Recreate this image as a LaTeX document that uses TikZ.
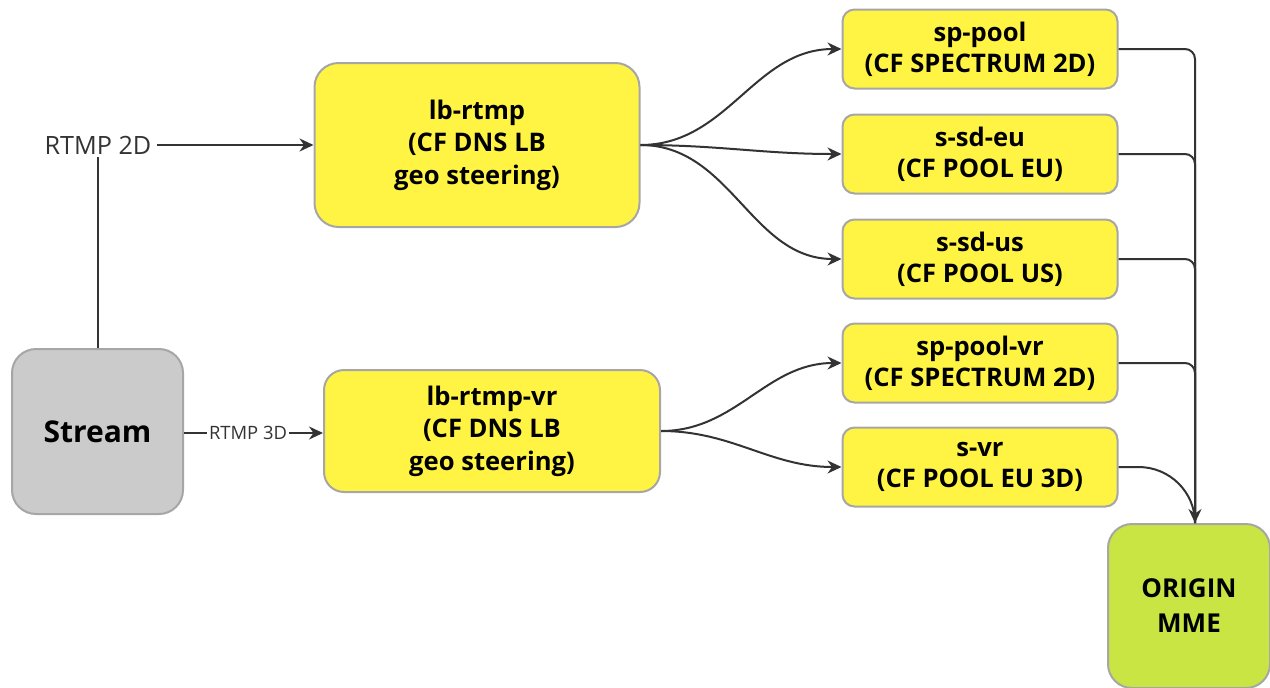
\documentclass[tikz,border=0pt]{standalone}
\usepackage{fontspec}
\setmainfont{Open Sans}
\usetikzlibrary{arrows.meta}
\definecolor{boxyellow}{HTML}{FFF443}
\definecolor{boxgray}{HTML}{CBCBCB}
\definecolor{boxgreen}{HTML}{C9E543}
\definecolor{edgegray}{HTML}{A6A6A6}
\definecolor{linedark}{HTML}{333333}
\tikzset{
  box/.style={draw=edgegray, line width=1pt, inner sep=0pt, align=center,
    font=\fontsize{12.8}{16.2}\selectfont\bfseries},
  ybox/.style={box, fill=boxyellow, rounded corners=6pt, minimum width=137.5pt, minimum height=39.5pt,
    font=\fontsize{12.8}{15.5}\selectfont\bfseries},
  conn/.style={draw=linedark, line width=1pt},
  arr/.style={conn, -{Stealth[length=7pt,width=6.5pt]}},
  lbl/.style={text=linedark, inner sep=1pt}
}
\begin{document}
\begin{tikzpicture}[x=0.5pt,y=-0.5pt]
\useasboundingbox (0,0) rectangle (1270,687);
% nodes
\node[box, fill=boxyellow, rounded corners=12pt, minimum width=162.5pt, minimum height=82pt] (lb) at (477,145) {lb-rtmp\\(CF DNS LB\\geo steering)};
\node[box, fill=boxyellow, rounded corners=10pt, minimum width=168pt, minimum height=61pt] (lbvr) at (492,431) {lb-rtmp-vr\\(CF DNS LB\\geo steering)};
\node[ybox] (sp) at (980,49) {sp-pool\\(CF SPECTRUM 2D)};
\node[ybox] (eu) at (980,154) {s-sd-eu\\(CF POOL EU)};
\node[ybox] (us) at (980,259) {s-sd-us\\(CF POOL US)};
\node[ybox] (spvr) at (980,363) {sp-pool-vr\\(CF SPECTRUM 2D)};
\node[ybox] (svr) at (980,467) {s-vr\\(CF POOL EU 3D)};
\node[box, fill=boxgray, rounded corners=12pt, minimum width=85.5pt, minimum height=82.5pt,
  font=\fontsize{15}{18}\selectfont\bfseries] (stream) at (97.5,431.5) {Stream};
\node[box, fill=boxgreen, rounded corners=12pt, minimum width=81pt, minimum height=82pt,
  font=\fontsize{13}{17.5}\selectfont\bfseries] (origin) at (1189,606) {ORIGIN\\MME};
% labels
\node[lbl, font=\fontsize{12.6}{15}\selectfont] (r2d) at (98,145) {RTMP 2D};
\node[lbl, font=\fontsize{9.2}{11}\selectfont] (r3d) at (248,433) {RTMP 3D};
% stream connectors
\draw[conn] (stream.north) -- (r2d.south -| stream.north);
\draw[arr] (r2d.east) ++(3,0) coordinate (r2dstart) -- (r2dstart -| lb.west);
\draw[conn] (stream.east |- r3d.west) -- (r3d.west);
\draw[arr] (r3d.east) -- (r3d.east -| lbvr.west);
% fan out
\draw[arr] (lb.east) to[out=0,in=180] (sp.west);
\draw[arr] (lb.east) to[out=0,in=180] (eu.west);
\draw[arr] (lb.east) to[out=0,in=180] (us.west);
\draw[arr] (lbvr.east) to[out=0,in=180] (spvr.west);
\draw[arr] (lbvr.east) to[out=0,in=180] (svr.west);
% merge to origin
\coordinate (mx) at (1195,0);
\coordinate (oin) at (mx |- origin.north);
\draw[arr, rounded corners=5pt] (sp.east) -| (oin);
\draw[conn, rounded corners=5pt] (eu.east) -| (oin);
\draw[conn, rounded corners=5pt] (us.east) -| (oin);
\draw[conn, rounded corners=5pt] (spvr.east) -| (oin);
\draw[conn] (svr.east) -- ++(20,0) to[out=0,in=90] (oin);
\end{tikzpicture}
\end{document}
